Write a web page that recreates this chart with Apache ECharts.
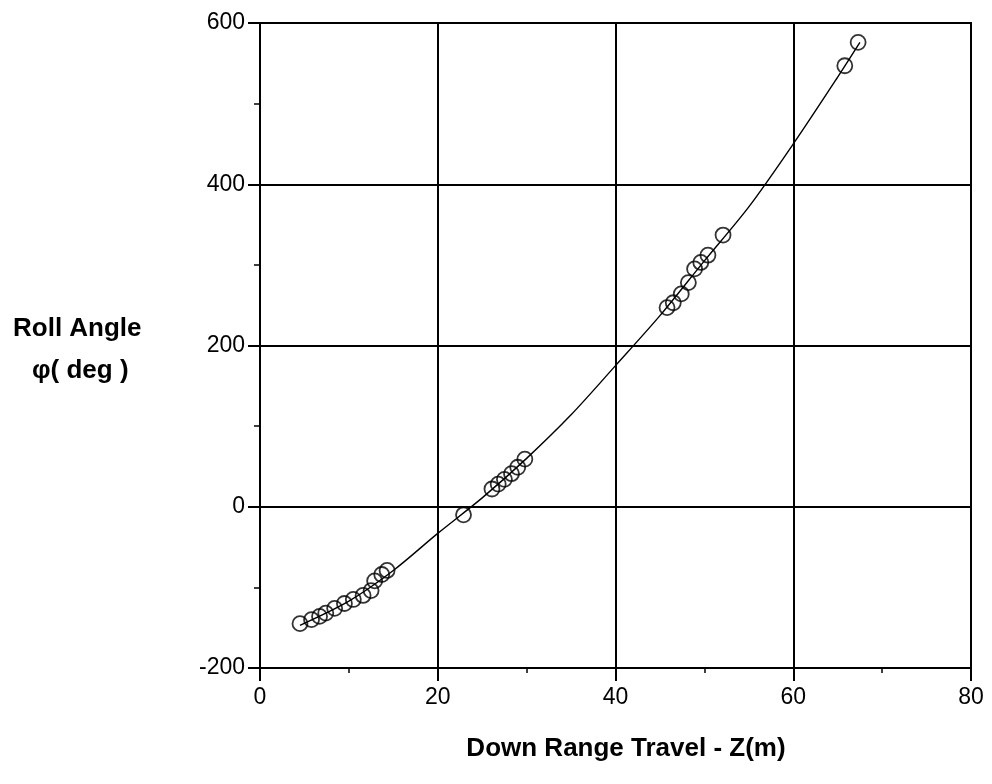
<!DOCTYPE html>
<html>
<head>
<meta charset="utf-8">
<script src="https://cdn.jsdelivr.net/npm/echarts@6/dist/echarts.min.js"></script>
<style>
html,body{margin:0;padding:0;background:#fff;}
#chart{width:992px;height:784px;}
</style>
</head>
<body>
<div id="chart"></div>
<script>
// Measured data points (Down range travel Z in m, roll angle in deg)
const pointX = [4.5, 5.8, 6.7, 7.4, 8.4, 9.5, 10.5, 11.6, 12.5, 12.9, 13.7, 14.3,
                22.9, 26.1, 26.8, 27.5, 28.3, 29.0, 29.8,
                45.8, 46.5, 47.4, 48.2, 48.9, 49.6, 50.4, 52.1,
                65.8, 67.3];
const pointY = [-145, -140, -136, -132, -126, -120, -115, -110, -104, -92, -84, -79,
                -10, 22, 28, 34, 41, 49, 59,
                247, 253, 264, 278, 295, 303, 312, 337,
                547, 576];
// Fitted curve
const curveX = [4.5, 10, 15, 20, 25, 30, 35, 40, 45, 50, 55, 60, 65, 67.5];
const curveY = [-147, -117, -79, -33, 11, 60, 114, 175, 237, 305, 372, 450, 533, 576];
// Axis settings
const xTicks = {min: 0, max: 80, interval: 20};
const yTicks = {min: -200, max: 600, interval: 200};
const xTitle = 'Down Range Travel - Z(m)';
const yTitle1 = 'Roll Angle';
const yTitle2 = 'φ( deg )';

const scatterData = pointX.map((x, i) => [x, pointY[i]]);
const curveData = curveX.map((x, i) => [x, curveY[i]]);

const tickFont = {fontFamily: "'Liberation Sans', Arial, sans-serif", fontSize: 23, color: '#000'};
const boldFont = "'Liberation Sans', Arial, sans-serif";

const chart = echarts.init(document.getElementById('chart'), null, {renderer: 'canvas'});
chart.setOption({
  animation: false,
  backgroundColor: '#fff',
  grid: {left: 260, right: 21, top: 23, bottom: 116, show: true, borderColor: '#000', borderWidth: 2},
  xAxis: {
    type: 'value', min: xTicks.min, max: xTicks.max, interval: xTicks.interval,
    axisLine: {show: true, onZero: false, lineStyle: {color: '#000', width: 2}},
    axisTick: {show: true, inside: false, length: 13, lineStyle: {color: '#000', width: 2}},
    minorTick: {show: true, splitNumber: 2, length: 5, lineStyle: {color: '#000', width: 1.5}},
    splitLine: {show: true, lineStyle: {color: '#000', width: 2}},
    axisLabel: Object.assign({margin: 18}, tickFont)
  },
  yAxis: {
    type: 'value', min: yTicks.min, max: yTicks.max, interval: yTicks.interval,
    axisLine: {show: true, onZero: false, lineStyle: {color: '#000', width: 2}},
    axisTick: {show: true, inside: false, length: 12, lineStyle: {color: '#000', width: 2}},
    minorTick: {show: true, splitNumber: 2, length: 6, lineStyle: {color: '#000', width: 1.5}},
    splitLine: {show: true, lineStyle: {color: '#000', width: 2}},
    axisLabel: Object.assign({margin: 15}, tickFont)
  },
  graphic: [
    {type: 'text', left: 13, top: 316, style: {text: yTitle1, font: "bold 26px " + boldFont, fill: '#000'}},
    {type: 'text', left: 32, top: 358, style: {text: yTitle2, font: "bold 26px " + boldFont, fill: '#000'}},
    {type: 'text', x: 626, y: 749, style: {text: xTitle, font: "bold 26px " + boldFont, fill: '#000', textAlign: 'center', textVerticalAlign: 'middle'}}
  ],
  series: [
    {
      type: 'line', data: curveData, smooth: 0.3, showSymbol: false, silent: true,
      lineStyle: {color: '#000', width: 1.4}, z: 3
    },
    {
      type: 'scatter', data: scatterData, symbol: 'circle', symbolSize: 15,
      itemStyle: {color: 'rgba(0,0,0,0)', borderColor: '#000', borderWidth: 1.8}, z: 4
    }
  ]
});
</script>
</body>
</html>
